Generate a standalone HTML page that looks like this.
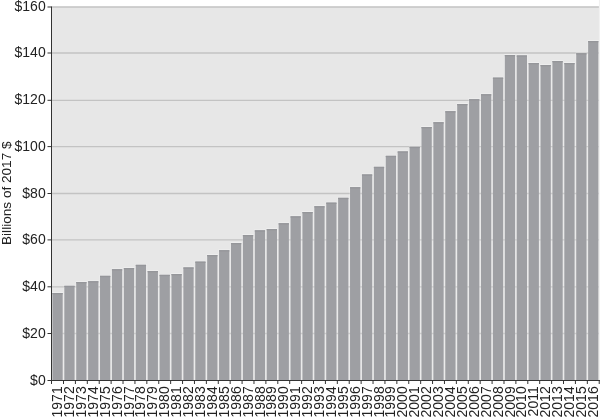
<!DOCTYPE html>
<html><head><meta charset="utf-8"><style>
html,body{margin:0;padding:0;background:#fff;}
body{width:600px;height:417px;overflow:hidden;}
svg{display:block;will-change:transform;}
text{font-family:'Liberation Sans', Arial, Helvetica, sans-serif;font-size:14px;fill:#222222;}
</style></head><body>
<svg width="600" height="417" viewBox="0 0 600 417">
<rect x="51.5" y="6.80" width="547.80" height="373.70" fill="#e7e7e7"/>
<path d="M51.5 333.50H599.3" stroke="#c3c3c3" stroke-width="1.3"/>
<path d="M51.5 286.80H599.3" stroke="#c3c3c3" stroke-width="1.3"/>
<path d="M51.5 239.90H599.3" stroke="#c3c3c3" stroke-width="1.3"/>
<path d="M51.5 193.50H599.3" stroke="#c3c3c3" stroke-width="1.3"/>
<path d="M51.5 146.60H599.3" stroke="#c3c3c3" stroke-width="1.3"/>
<path d="M51.5 100.30H599.3" stroke="#c3c3c3" stroke-width="1.3"/>
<path d="M51.5 53.00H599.3" stroke="#c3c3c3" stroke-width="1.3"/>
<path d="M51.5 7.00H599.3" stroke="#c3c3c3" stroke-width="1.3"/>
<rect x="51.80" y="292.10" width="11.50" height="88.40" fill="#ffffff" fill-opacity=".33"/>
<rect x="52.40" y="293.00" width="10.30" height="87.50" fill="#9e9fa3"/>
<rect x="52.40" y="293.00" width="10.30" height="1.3" fill="#95969a"/>
<rect x="63.71" y="284.90" width="11.50" height="95.60" fill="#ffffff" fill-opacity=".33"/>
<rect x="64.31" y="285.80" width="10.30" height="94.70" fill="#9e9fa3"/>
<rect x="64.31" y="285.80" width="10.30" height="1.3" fill="#95969a"/>
<rect x="75.61" y="281.10" width="11.50" height="99.40" fill="#ffffff" fill-opacity=".33"/>
<rect x="76.21" y="282.00" width="10.30" height="98.50" fill="#9e9fa3"/>
<rect x="76.21" y="282.00" width="10.30" height="1.3" fill="#95969a"/>
<rect x="87.52" y="280.30" width="11.50" height="100.20" fill="#ffffff" fill-opacity=".33"/>
<rect x="88.11" y="281.20" width="10.30" height="99.30" fill="#9e9fa3"/>
<rect x="88.11" y="281.20" width="10.30" height="1.3" fill="#95969a"/>
<rect x="99.42" y="274.90" width="11.50" height="105.60" fill="#ffffff" fill-opacity=".33"/>
<rect x="100.02" y="275.80" width="10.30" height="104.70" fill="#9e9fa3"/>
<rect x="100.02" y="275.80" width="10.30" height="1.3" fill="#95969a"/>
<rect x="111.33" y="268.30" width="11.50" height="112.20" fill="#ffffff" fill-opacity=".33"/>
<rect x="111.92" y="269.20" width="10.30" height="111.30" fill="#9e9fa3"/>
<rect x="111.92" y="269.20" width="10.30" height="1.3" fill="#95969a"/>
<rect x="123.23" y="267.10" width="11.50" height="113.40" fill="#ffffff" fill-opacity=".33"/>
<rect x="123.83" y="268.00" width="10.30" height="112.50" fill="#9e9fa3"/>
<rect x="123.83" y="268.00" width="10.30" height="1.3" fill="#95969a"/>
<rect x="135.14" y="263.90" width="11.50" height="116.60" fill="#ffffff" fill-opacity=".33"/>
<rect x="135.74" y="264.80" width="10.30" height="115.70" fill="#9e9fa3"/>
<rect x="135.74" y="264.80" width="10.30" height="1.3" fill="#95969a"/>
<rect x="147.04" y="270.10" width="11.50" height="110.40" fill="#ffffff" fill-opacity=".33"/>
<rect x="147.64" y="271.00" width="10.30" height="109.50" fill="#9e9fa3"/>
<rect x="147.64" y="271.00" width="10.30" height="1.3" fill="#95969a"/>
<rect x="158.95" y="273.90" width="11.50" height="106.60" fill="#ffffff" fill-opacity=".33"/>
<rect x="159.55" y="274.80" width="10.30" height="105.70" fill="#9e9fa3"/>
<rect x="159.55" y="274.80" width="10.30" height="1.3" fill="#95969a"/>
<rect x="170.85" y="273.10" width="11.50" height="107.40" fill="#ffffff" fill-opacity=".33"/>
<rect x="171.45" y="274.00" width="10.30" height="106.50" fill="#9e9fa3"/>
<rect x="171.45" y="274.00" width="10.30" height="1.3" fill="#95969a"/>
<rect x="182.75" y="266.50" width="11.50" height="114.00" fill="#ffffff" fill-opacity=".33"/>
<rect x="183.35" y="267.40" width="10.30" height="113.10" fill="#9e9fa3"/>
<rect x="183.35" y="267.40" width="10.30" height="1.3" fill="#95969a"/>
<rect x="194.66" y="260.70" width="11.50" height="119.80" fill="#ffffff" fill-opacity=".33"/>
<rect x="195.26" y="261.60" width="10.30" height="118.90" fill="#9e9fa3"/>
<rect x="195.26" y="261.60" width="10.30" height="1.3" fill="#95969a"/>
<rect x="206.56" y="254.10" width="11.50" height="126.40" fill="#ffffff" fill-opacity=".33"/>
<rect x="207.16" y="255.00" width="10.30" height="125.50" fill="#9e9fa3"/>
<rect x="207.16" y="255.00" width="10.30" height="1.3" fill="#95969a"/>
<rect x="218.47" y="249.30" width="11.50" height="131.20" fill="#ffffff" fill-opacity=".33"/>
<rect x="219.07" y="250.20" width="10.30" height="130.30" fill="#9e9fa3"/>
<rect x="219.07" y="250.20" width="10.30" height="1.3" fill="#95969a"/>
<rect x="230.38" y="242.10" width="11.50" height="138.40" fill="#ffffff" fill-opacity=".33"/>
<rect x="230.97" y="243.00" width="10.30" height="137.50" fill="#9e9fa3"/>
<rect x="230.97" y="243.00" width="10.30" height="1.3" fill="#95969a"/>
<rect x="242.28" y="234.10" width="11.50" height="146.40" fill="#ffffff" fill-opacity=".33"/>
<rect x="242.88" y="235.00" width="10.30" height="145.50" fill="#9e9fa3"/>
<rect x="242.88" y="235.00" width="10.30" height="1.3" fill="#95969a"/>
<rect x="254.19" y="229.40" width="11.50" height="151.10" fill="#ffffff" fill-opacity=".33"/>
<rect x="254.78" y="230.30" width="10.30" height="150.20" fill="#9e9fa3"/>
<rect x="254.78" y="230.30" width="10.30" height="1.3" fill="#95969a"/>
<rect x="266.09" y="228.10" width="11.50" height="152.40" fill="#ffffff" fill-opacity=".33"/>
<rect x="266.69" y="229.00" width="10.30" height="151.50" fill="#9e9fa3"/>
<rect x="266.69" y="229.00" width="10.30" height="1.3" fill="#95969a"/>
<rect x="278.00" y="222.30" width="11.50" height="158.20" fill="#ffffff" fill-opacity=".33"/>
<rect x="278.60" y="223.20" width="10.30" height="157.30" fill="#9e9fa3"/>
<rect x="278.60" y="223.20" width="10.30" height="1.3" fill="#95969a"/>
<rect x="289.90" y="215.40" width="11.50" height="165.10" fill="#ffffff" fill-opacity=".33"/>
<rect x="290.50" y="216.30" width="10.30" height="164.20" fill="#9e9fa3"/>
<rect x="290.50" y="216.30" width="10.30" height="1.3" fill="#95969a"/>
<rect x="301.81" y="211.10" width="11.50" height="169.40" fill="#ffffff" fill-opacity=".33"/>
<rect x="302.41" y="212.00" width="10.30" height="168.50" fill="#9e9fa3"/>
<rect x="302.41" y="212.00" width="10.30" height="1.3" fill="#95969a"/>
<rect x="313.71" y="205.30" width="11.50" height="175.20" fill="#ffffff" fill-opacity=".33"/>
<rect x="314.31" y="206.20" width="10.30" height="174.30" fill="#9e9fa3"/>
<rect x="314.31" y="206.20" width="10.30" height="1.3" fill="#95969a"/>
<rect x="325.62" y="201.70" width="11.50" height="178.80" fill="#ffffff" fill-opacity=".33"/>
<rect x="326.22" y="202.60" width="10.30" height="177.90" fill="#9e9fa3"/>
<rect x="326.22" y="202.60" width="10.30" height="1.3" fill="#95969a"/>
<rect x="337.52" y="196.90" width="11.50" height="183.60" fill="#ffffff" fill-opacity=".33"/>
<rect x="338.12" y="197.80" width="10.30" height="182.70" fill="#9e9fa3"/>
<rect x="338.12" y="197.80" width="10.30" height="1.3" fill="#95969a"/>
<rect x="349.43" y="186.30" width="11.50" height="194.20" fill="#ffffff" fill-opacity=".33"/>
<rect x="350.03" y="187.20" width="10.30" height="193.30" fill="#9e9fa3"/>
<rect x="350.03" y="187.20" width="10.30" height="1.3" fill="#95969a"/>
<rect x="361.33" y="173.50" width="11.50" height="207.00" fill="#ffffff" fill-opacity=".33"/>
<rect x="361.93" y="174.40" width="10.30" height="206.10" fill="#9e9fa3"/>
<rect x="361.93" y="174.40" width="10.30" height="1.3" fill="#95969a"/>
<rect x="373.24" y="165.90" width="11.50" height="214.60" fill="#ffffff" fill-opacity=".33"/>
<rect x="373.84" y="166.80" width="10.30" height="213.70" fill="#9e9fa3"/>
<rect x="373.84" y="166.80" width="10.30" height="1.3" fill="#95969a"/>
<rect x="385.14" y="154.90" width="11.50" height="225.60" fill="#ffffff" fill-opacity=".33"/>
<rect x="385.74" y="155.80" width="10.30" height="224.70" fill="#9e9fa3"/>
<rect x="385.74" y="155.80" width="10.30" height="1.3" fill="#95969a"/>
<rect x="397.05" y="150.50" width="11.50" height="230.00" fill="#ffffff" fill-opacity=".33"/>
<rect x="397.65" y="151.40" width="10.30" height="229.10" fill="#9e9fa3"/>
<rect x="397.65" y="151.40" width="10.30" height="1.3" fill="#95969a"/>
<rect x="408.95" y="145.90" width="11.50" height="234.60" fill="#ffffff" fill-opacity=".33"/>
<rect x="409.55" y="146.80" width="10.30" height="233.70" fill="#9e9fa3"/>
<rect x="409.55" y="146.80" width="10.30" height="1.3" fill="#95969a"/>
<rect x="420.86" y="126.10" width="11.50" height="254.40" fill="#ffffff" fill-opacity=".33"/>
<rect x="421.46" y="127.00" width="10.30" height="253.50" fill="#9e9fa3"/>
<rect x="421.46" y="127.00" width="10.30" height="1.3" fill="#95969a"/>
<rect x="432.76" y="121.30" width="11.50" height="259.20" fill="#ffffff" fill-opacity=".33"/>
<rect x="433.36" y="122.20" width="10.30" height="258.30" fill="#9e9fa3"/>
<rect x="433.36" y="122.20" width="10.30" height="1.3" fill="#95969a"/>
<rect x="444.66" y="110.30" width="11.50" height="270.20" fill="#ffffff" fill-opacity=".33"/>
<rect x="445.26" y="111.20" width="10.30" height="269.30" fill="#9e9fa3"/>
<rect x="445.26" y="111.20" width="10.30" height="1.3" fill="#95969a"/>
<rect x="456.57" y="103.10" width="11.50" height="277.40" fill="#ffffff" fill-opacity=".33"/>
<rect x="457.17" y="104.00" width="10.30" height="276.50" fill="#9e9fa3"/>
<rect x="457.17" y="104.00" width="10.30" height="1.3" fill="#95969a"/>
<rect x="468.47" y="98.30" width="11.50" height="282.20" fill="#ffffff" fill-opacity=".33"/>
<rect x="469.07" y="99.20" width="10.30" height="281.30" fill="#9e9fa3"/>
<rect x="469.07" y="99.20" width="10.30" height="1.3" fill="#95969a"/>
<rect x="480.38" y="93.30" width="11.50" height="287.20" fill="#ffffff" fill-opacity=".33"/>
<rect x="480.98" y="94.20" width="10.30" height="286.30" fill="#9e9fa3"/>
<rect x="480.98" y="94.20" width="10.30" height="1.3" fill="#95969a"/>
<rect x="492.28" y="76.70" width="11.50" height="303.80" fill="#ffffff" fill-opacity=".33"/>
<rect x="492.88" y="77.60" width="10.30" height="302.90" fill="#9e9fa3"/>
<rect x="492.88" y="77.60" width="10.30" height="1.3" fill="#95969a"/>
<rect x="504.19" y="54.10" width="11.50" height="326.40" fill="#ffffff" fill-opacity=".33"/>
<rect x="504.79" y="55.00" width="10.30" height="325.50" fill="#9e9fa3"/>
<rect x="504.79" y="55.00" width="10.30" height="1.3" fill="#95969a"/>
<rect x="516.09" y="54.50" width="11.50" height="326.00" fill="#ffffff" fill-opacity=".33"/>
<rect x="516.69" y="55.40" width="10.30" height="325.10" fill="#9e9fa3"/>
<rect x="516.69" y="55.40" width="10.30" height="1.3" fill="#95969a"/>
<rect x="528.00" y="62.10" width="11.50" height="318.40" fill="#ffffff" fill-opacity=".33"/>
<rect x="528.60" y="63.00" width="10.30" height="317.50" fill="#9e9fa3"/>
<rect x="528.60" y="63.00" width="10.30" height="1.3" fill="#95969a"/>
<rect x="539.90" y="64.10" width="11.50" height="316.40" fill="#ffffff" fill-opacity=".33"/>
<rect x="540.50" y="65.00" width="10.30" height="315.50" fill="#9e9fa3"/>
<rect x="540.50" y="65.00" width="10.30" height="1.3" fill="#95969a"/>
<rect x="551.81" y="60.10" width="11.50" height="320.40" fill="#ffffff" fill-opacity=".33"/>
<rect x="552.41" y="61.00" width="10.30" height="319.50" fill="#9e9fa3"/>
<rect x="552.41" y="61.00" width="10.30" height="1.3" fill="#95969a"/>
<rect x="563.71" y="62.10" width="11.50" height="318.40" fill="#ffffff" fill-opacity=".33"/>
<rect x="564.31" y="63.00" width="10.30" height="317.50" fill="#9e9fa3"/>
<rect x="564.31" y="63.00" width="10.30" height="1.3" fill="#95969a"/>
<rect x="575.62" y="52.30" width="11.50" height="328.20" fill="#ffffff" fill-opacity=".33"/>
<rect x="576.22" y="53.20" width="10.30" height="327.30" fill="#9e9fa3"/>
<rect x="576.22" y="53.20" width="10.30" height="1.3" fill="#95969a"/>
<rect x="587.52" y="40.10" width="11.50" height="340.40" fill="#ffffff" fill-opacity=".33"/>
<rect x="588.12" y="41.00" width="10.30" height="339.50" fill="#9e9fa3"/>
<rect x="588.12" y="41.00" width="10.30" height="1.3" fill="#95969a"/>
<rect x="598.9" y="0" width="1.1" height="380.0" fill="#f1f1f1"/>
<path d="M51.5 6.50V384.0M47.5 380.5H600M47.5 333.50H51.5M47.5 286.80H51.5M47.5 239.90H51.5M47.5 193.50H51.5M47.5 146.60H51.5M47.5 100.30H51.5M47.5 53.00H51.5M47.5 7.00H51.5M63.51 380.5v3.5M75.41 380.5v3.5M87.31 380.5v3.5M99.22 380.5v3.5M111.12 380.5v3.5M123.03 380.5v3.5M134.94 380.5v3.5M146.84 380.5v3.5M158.75 380.5v3.5M170.65 380.5v3.5M182.55 380.5v3.5M194.46 380.5v3.5M206.36 380.5v3.5M218.27 380.5v3.5M230.17 380.5v3.5M242.08 380.5v3.5M253.98 380.5v3.5M265.89 380.5v3.5M277.80 380.5v3.5M289.70 380.5v3.5M301.61 380.5v3.5M313.51 380.5v3.5M325.42 380.5v3.5M337.32 380.5v3.5M349.23 380.5v3.5M361.13 380.5v3.5M373.04 380.5v3.5M384.94 380.5v3.5M396.85 380.5v3.5M408.75 380.5v3.5M420.66 380.5v3.5M432.56 380.5v3.5M444.46 380.5v3.5M456.37 380.5v3.5M468.27 380.5v3.5M480.18 380.5v3.5M492.08 380.5v3.5M503.99 380.5v3.5M515.89 380.5v3.5M527.80 380.5v3.5M539.70 380.5v3.5M551.61 380.5v3.5M563.51 380.5v3.5M575.42 380.5v3.5M587.33 380.5v3.5M599.23 380.5v3.5" stroke="#333333" fill="none"/>
<text x="45.7" y="384.60" text-anchor="end">$0</text>
<text x="45.7" y="337.60" text-anchor="end">$20</text>
<text x="45.7" y="290.90" text-anchor="end">$40</text>
<text x="45.7" y="244.00" text-anchor="end">$60</text>
<text x="45.7" y="197.60" text-anchor="end">$80</text>
<text x="45.7" y="150.70" text-anchor="end">$100</text>
<text x="45.7" y="104.40" text-anchor="end">$120</text>
<text x="45.7" y="57.10" text-anchor="end">$140</text>
<text x="45.7" y="11.10" text-anchor="end">$160</text>
<text transform="translate(62.15,386.3) rotate(-90)" text-anchor="end">1971</text>
<text transform="translate(74.06,386.3) rotate(-90)" text-anchor="end">1972</text>
<text transform="translate(85.96,386.3) rotate(-90)" text-anchor="end">1973</text>
<text transform="translate(97.87,386.3) rotate(-90)" text-anchor="end">1974</text>
<text transform="translate(109.77,386.3) rotate(-90)" text-anchor="end">1975</text>
<text transform="translate(121.68,386.3) rotate(-90)" text-anchor="end">1976</text>
<text transform="translate(133.58,386.3) rotate(-90)" text-anchor="end">1977</text>
<text transform="translate(145.49,386.3) rotate(-90)" text-anchor="end">1978</text>
<text transform="translate(157.39,386.3) rotate(-90)" text-anchor="end">1979</text>
<text transform="translate(169.30,386.3) rotate(-90)" text-anchor="end">1980</text>
<text transform="translate(181.20,386.3) rotate(-90)" text-anchor="end">1981</text>
<text transform="translate(193.11,386.3) rotate(-90)" text-anchor="end">1982</text>
<text transform="translate(205.01,386.3) rotate(-90)" text-anchor="end">1983</text>
<text transform="translate(216.92,386.3) rotate(-90)" text-anchor="end">1984</text>
<text transform="translate(228.82,386.3) rotate(-90)" text-anchor="end">1985</text>
<text transform="translate(240.73,386.3) rotate(-90)" text-anchor="end">1986</text>
<text transform="translate(252.63,386.3) rotate(-90)" text-anchor="end">1987</text>
<text transform="translate(264.54,386.3) rotate(-90)" text-anchor="end">1988</text>
<text transform="translate(276.44,386.3) rotate(-90)" text-anchor="end">1989</text>
<text transform="translate(288.35,386.3) rotate(-90)" text-anchor="end">1990</text>
<text transform="translate(300.25,386.3) rotate(-90)" text-anchor="end">1991</text>
<text transform="translate(312.16,386.3) rotate(-90)" text-anchor="end">1992</text>
<text transform="translate(324.06,386.3) rotate(-90)" text-anchor="end">1993</text>
<text transform="translate(335.97,386.3) rotate(-90)" text-anchor="end">1994</text>
<text transform="translate(347.87,386.3) rotate(-90)" text-anchor="end">1995</text>
<text transform="translate(359.78,386.3) rotate(-90)" text-anchor="end">1996</text>
<text transform="translate(371.68,386.3) rotate(-90)" text-anchor="end">1997</text>
<text transform="translate(383.59,386.3) rotate(-90)" text-anchor="end">1998</text>
<text transform="translate(395.49,386.3) rotate(-90)" text-anchor="end">1999</text>
<text transform="translate(407.40,386.3) rotate(-90)" text-anchor="end">2000</text>
<text transform="translate(419.30,386.3) rotate(-90)" text-anchor="end">2001</text>
<text transform="translate(431.21,386.3) rotate(-90)" text-anchor="end">2002</text>
<text transform="translate(443.11,386.3) rotate(-90)" text-anchor="end">2003</text>
<text transform="translate(455.02,386.3) rotate(-90)" text-anchor="end">2004</text>
<text transform="translate(466.92,386.3) rotate(-90)" text-anchor="end">2005</text>
<text transform="translate(478.83,386.3) rotate(-90)" text-anchor="end">2006</text>
<text transform="translate(490.73,386.3) rotate(-90)" text-anchor="end">2007</text>
<text transform="translate(502.64,386.3) rotate(-90)" text-anchor="end">2008</text>
<text transform="translate(514.54,386.3) rotate(-90)" text-anchor="end">2009</text>
<text transform="translate(526.45,386.3) rotate(-90)" text-anchor="end">2010</text>
<text transform="translate(538.35,386.3) rotate(-90)" text-anchor="end">2011</text>
<text transform="translate(550.26,386.3) rotate(-90)" text-anchor="end">2012</text>
<text transform="translate(562.16,386.3) rotate(-90)" text-anchor="end">2013</text>
<text transform="translate(574.07,386.3) rotate(-90)" text-anchor="end">2014</text>
<text transform="translate(585.97,386.3) rotate(-90)" text-anchor="end">2015</text>
<text transform="translate(597.88,386.3) rotate(-90)" text-anchor="end">2016</text>
<text transform="translate(11.3,193.2) rotate(-90)" text-anchor="middle" style="font-size:13.6px">Billions of 2017 $</text>
</svg>
</body></html>
